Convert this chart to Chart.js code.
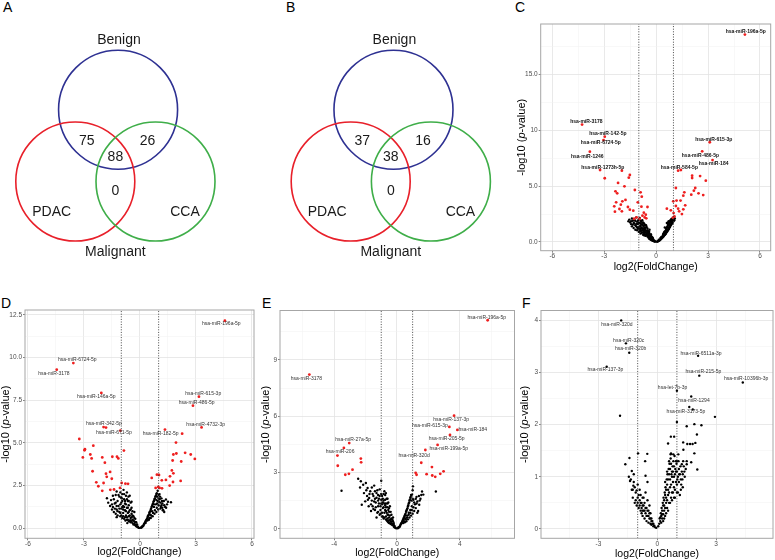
<!DOCTYPE html>
<html>
<head>
<meta charset="utf-8">
<script src="https://cdn.jsdelivr.net/npm/chart.js@4.4.0/dist/chart.umd.min.js"></script>
<style>
  body { margin: 0; background: #fff; width: 775px; height: 560px; position: relative; overflow: hidden;
         font-family: "Liberation Sans", Arial, sans-serif; }
  canvas { position: absolute; }
  .tag { position: absolute; font-size: 14px; line-height: 14px; color: #000; }
</style>
</head>
<body>
<div class="tag" style="left:3px;top:0px">A</div>
<div class="tag" style="left:286px;top:0px">B</div>
<div class="tag" style="left:515px;top:0px">C</div>
<div class="tag" style="left:1px;top:296px">D</div>
<div class="tag" style="left:262px;top:296px">E</div>
<div class="tag" style="left:522px;top:296px">F</div>

<canvas id="vennA" width="260" height="290" style="left:0px;top:0px"></canvas>
<canvas id="vennB" width="258" height="290" style="left:262px;top:0px"></canvas>
<canvas id="volC" width="263" height="262" style="left:512px;top:14px"></canvas>
<canvas id="volD" width="260" height="264" style="left:0px;top:296px"></canvas>
<canvas id="volE" width="260" height="264" style="left:258px;top:296px"></canvas>
<canvas id="volF" width="257" height="264" style="left:518px;top:296px"></canvas>

<script>
const FAMILY = '"Liberation Sans", Arial, sans-serif';
Chart.defaults.font.family = FAMILY;

// ---- Venn data ----
const vennSets = ['Benign', 'PDAC', 'CCA'];
const vennOuter = 'Malignant';
// Benign&PDAC only, Benign&CCA only, all three, PDAC&CCA only
const countsA = [75, 26, 88, 0];
const countsB = [37, 16, 38, 0];

// ---- volcano data: [log2FC, -log10 p] ----
const cRed = [[5.13,18.55],[-4.28,10.5],[-2.97,9.42],[-3.04,9.12],[-3.83,8.08],[-3.24,6.44],[-2.97,5.70],
  [3.10,8.92],[2.66,8.11],[3.26,7.33],[1.27,6.38],[1.43,6.44],
  [-1.98,6.38],[-1.52,5.99],[-1.58,5.75],[-2.20,5.28],[-1.83,4.98],[-2.35,4.53],[-2.25,4.35],[-1.23,4.65],
  [-0.90,4.44],[-0.83,4.05],[-1.77,3.76],[-1.95,3.64],[-2.31,3.55],[-2.04,3.34],[-2.42,3.19],[-2.12,2.95],
  [-2.38,2.71],[-1.98,2.74],[-1.63,3.13],[-1.52,2.89],[-1.32,2.80],[-1.06,3.55],[-0.85,3.16],[-0.50,3.13],
  [-0.71,2.62],[-0.60,2.44],[-0.79,2.35],[-1.13,2.20],[-1.27,2.08],[-0.95,2.06],[-0.66,2.20],[-0.57,2.12],
  [2.08,5.93],[2.08,5.72],[2.54,5.90],[2.87,5.48],[1.14,4.83],[2.26,4.83],[2.18,4.59],[2.45,4.35],[2.72,4.20],
  [2.03,4.23],[1.63,4.44],[1.57,4.14],[0.99,3.64],[1.18,3.70],[1.41,3.70],[1.14,3.22],[1.27,2.98],[1.57,2.92],
  [1.49,2.50],[1.33,2.74],[1.68,3.28],[0.62,2.98],[0.85,2.83],[1.01,2.59],[0.97,2.17],[1.06,2.29]];
const cBlack = [[-1.55,2.0],[-1.45,1.85],[-1.4,2.1],[-1.3,1.7],[-1.25,1.95],[-1.2,1.5],[-1.15,2.2],[-1.1,1.8],
  [-1.05,1.6],[-1.0,1.35],[-1.0,2.0],[-0.95,1.15],[-0.95,1.7],[-0.9,1.45],[-0.9,1.9],[-0.85,1.0],[-0.85,1.3],
  [-0.8,1.6],[-0.8,0.85],[-0.75,1.2],[-0.75,1.75],[-0.7,0.95],[-0.7,1.45],[-0.65,0.7],[-0.65,1.1],[-0.6,1.3],
  [-0.6,0.85],[-0.55,0.6],[-0.55,1.0],[-0.5,0.5],[-0.5,0.8],[-0.5,1.2],[-0.45,0.4],[-0.45,0.65],[-0.4,0.3],
  [-0.4,0.55],[-0.4,0.9],[-0.35,0.25],[-0.35,0.45],[-0.3,0.2],[-0.3,0.4],[-0.3,0.7],[-0.25,0.15],[-0.25,0.3],
  [-0.2,0.1],[-0.2,0.25],[-0.15,0.08],[-0.15,0.18],[-0.1,0.05],[-0.1,0.12],[-0.05,0.03],[-1.35,1.55],[-1.1,1.3],
  [-0.95,0.95],[-0.85,1.55],[-0.72,1.05],[-0.62,0.55],[-0.58,1.5],[-0.48,1.0],[-0.42,0.75],[-0.38,1.1],
  [-0.33,0.55],[-0.28,0.5],[-0.22,0.4],[-0.18,0.3],[-1.2,1.1],[-1.0,1.15],[-0.9,0.75],[-0.8,1.05],[-0.7,0.6],
  [-0.68,1.25],[0.05,0.03],[0.1,0.06],[0.15,0.1],[0.2,0.15],[0.25,0.22],[0.3,0.3],[0.35,0.38],[0.4,0.45],
  [0.45,0.55],[0.5,0.62],[0.55,0.72],[0.6,0.85],[0.65,0.95],[0.7,1.1],[0.75,1.2],[0.8,1.35],[0.85,1.5],[0.9,1.6],
  [0.95,1.7],[1.0,1.85],[0.6,1.2],[0.7,1.5],[0.75,1.65],[0.8,1.8],[0.85,1.9],[0.9,2.0],[0.65,1.4],[0.55,1.0],
  [0.45,0.8],[0.4,0.65],[0.3,0.45],[0.5,1.3],[0.62,1.7],[0.72,1.85],[0.95,2.1],[1.05,1.95],[1.0,2.2],[0.88,1.75],
  [0.78,1.55],[0.68,1.3],[0.58,1.1],[0.48,0.9],[0.38,0.55],[0.25,0.35],[0.15,0.2],
  [-1.5,1.75],[-1.4,1.4],[-1.35,1.9],[-1.3,1.25],[-1.25,1.65],[-1.2,1.9],[-1.15,1.4],[-1.1,1.05],[-1.05,1.9],
  [-1.05,1.25],[-1.0,0.9],[-1.0,1.7],[-0.95,1.4],[-0.95,2.15],[-0.9,1.05],[-0.9,1.65],[-0.85,0.8],[-0.85,1.8],
  [-0.8,1.2],[-0.8,1.95],[-0.75,0.65],[-0.75,1.45],[-0.7,0.8],[-0.7,1.65],[-0.65,1.25],[-0.65,1.55],[-0.6,1.0],
  [-0.6,0.6],[-0.55,0.75],[-0.55,1.35],[-0.5,0.65],[-0.5,1.0],[-0.45,0.5],[-0.45,0.9],[-0.4,0.4],[-0.4,0.7],
  [-0.35,0.35],[-0.35,0.6],[-0.3,0.3],[-0.3,0.55],[-0.25,0.22],[-0.25,0.45],[-0.2,0.18],[-0.2,0.35],[-0.12,0.1],
  [-0.08,0.06],[-1.45,1.6],[-1.6,1.85],[-1.12,1.62],[-0.88,1.22],
  [0.08,0.05],[0.12,0.08],[0.18,0.13],[0.22,0.2],[0.28,0.27],[0.32,0.35],[0.36,0.42],[0.42,0.5],[0.46,0.6],
  [0.52,0.7],[0.56,0.82],[0.62,0.92],[0.66,1.05],[0.72,1.15],[0.76,1.3],[0.82,1.45],[0.86,1.6],[0.92,1.75],
  [0.96,1.9],[1.02,2.05],[0.58,1.25],[0.68,1.6],[0.78,1.72],[0.82,1.95],[0.92,1.85],[1.08,2.1],[0.7,1.75],
  [0.88,2.05],[0.5,0.95],[0.42,0.75]];
const cLabels = [['hsa-miR-196a-5p',5.18,18.85],['hsa-miR-3178',-4.03,10.76],['hsa-miR-142-5p',-2.79,9.66],
  ['hsa-miR-6724-5p',-3.2,8.86],['hsa-miR-1246',-3.98,7.63],['hsa-miR-1273h-5p',-3.08,6.68],
  ['hsa-miR-615-3p',3.33,9.15],['hsa-miR-486-5p',2.56,7.75],['hsa-miR-184',3.32,6.98],['hsa-miR-584-5p',1.34,6.68]];
const cXTicks = [-6, -3, 0, 3, 6];
const cXLabels = ['-6', '-3', '0', '3', '6'];
const cYTicks = [0, 5, 10, 15];
const cYLabels = ['0.0', '5.0', '10', '15.0'];

const dRed = [[4.55,12.16],[-3.57,9.68],[-4.46,9.29],[-2.07,7.93],[3.16,7.71],[2.84,7.18],[-1.95,5.93],[-1.82,5.90],
  [3.30,5.91],[-1.05,5.72],[1.34,5.78],[2.26,5.54],[-3.25,5.23],[-2.5,4.84],[-2.95,4.63],[-2.97,4.57],[-2.66,4.32],
  [-3.06,4.15],[-2.59,4.09],[-2.02,4.15],[-1.88,3.84],[-1.48,4.19],[-1.23,4.19],[-1.16,4.09],[-0.86,4.55],
  [-2.54,3.34],[-1.6,3.30],[-1.82,3.2],[-1.78,3.01],[-1.51,2.9],[-2.34,2.69],[-1.95,2.65],[-2.23,2.46],[-2.02,2.19],
  [-1.59,2.25],[-1.39,2.27],[-1.07,2.36],[-0.98,2.65],[-0.78,2.61],[-0.64,2.6],
  [1.93,5.02],[1.79,4.32],[1.95,4.38],[2.42,4.42],[2.72,4.32],[2.94,4.06],[1.75,3.97],[2.21,3.91],[1.71,3.39],
  [1.79,3.22],[1.61,3.04],[2.18,2.77],[1.77,2.71],[1.39,2.83],[1.17,2.81],[0.91,3.14],[1.02,3.12],[0.63,2.95],
  [0.98,2.42],[1.05,2.36],[1.18,2.34],[0.84,2.36],[1.59,2.5]];
const dBlack = [[-1.77,1.76],[-1.6,1.3],[-1.5,1.1],[-1.45,1.25],[-1.4,0.95],[-1.35,1.45],[-1.3,0.85],[-1.25,1.1],
  [-1.2,1.6],[-1.2,0.75],[-1.15,1.3],[-1.1,0.95],[-1.1,1.85],[-1.05,0.7],[-1.0,1.15],[-1.0,1.5],[-0.95,2.0],
  [-0.95,0.6],[-0.9,0.9],[-0.9,1.3],[-0.88,2.25],[-0.85,1.7],[-0.85,0.55],[-0.8,1.05],[-0.8,1.45],[-0.75,0.75],
  [-0.75,1.9],[-0.7,0.5],[-0.7,1.2],[-0.65,0.9],[-0.65,1.6],[-0.6,0.4],[-0.6,0.7],[-0.6,1.35],[-0.55,1.05],
  [-0.55,1.9],[-0.5,0.35],[-0.5,0.6],[-0.5,1.5],[-0.45,0.85],[-0.45,1.2],[-0.4,0.3],[-0.4,0.5],[-0.4,1.0],
  [-0.35,0.7],[-0.35,0.22],[-0.3,0.4],[-0.3,0.95],[-0.25,0.18],[-0.25,0.55],[-0.2,0.12],[-0.2,0.35],[-0.15,0.08],
  [-0.15,0.22],[-0.1,0.05],[-0.05,0.02],[-1.3,1.95],[-1.05,2.1],[-0.7,2.1],[-0.98,1.75],[-1.25,0.65],[-0.78,0.45],
  [-0.68,0.3],[0.05,0.03],[0.1,0.07],[0.15,0.12],[0.2,0.2],[0.25,0.3],[0.3,0.4],[0.35,0.5],[0.4,0.6],[0.45,0.75],
  [0.5,0.9],[0.55,1.0],[0.6,1.15],[0.65,1.3],[0.7,1.45],[0.75,1.6],[0.8,1.75],[0.85,1.9],[0.9,2.05],[0.95,2.2],
  [1.0,1.95],[1.05,1.7],[1.1,1.5],[1.15,1.35],[1.2,1.2],[1.25,1.05],[1.3,0.95],[1.0,1.35],[0.9,1.2],[0.8,1.05],
  [0.7,0.9],[0.6,0.75],[0.5,0.6],[0.4,0.45],[0.3,0.3],[1.1,1.15],[1.2,1.45],[1.39,1.68],[1.66,1.52],[1.35,1.25],
  [1.15,1.75],[0.95,1.6],[0.85,1.4],[0.75,1.25],[0.65,1.0],[0.55,0.8],[1.05,2.0],[0.88,1.65],[1.28,1.6],[1.45,1.4],
  [-1.7,1.5],[-1.55,1.65],[-1.5,1.4],[-1.4,1.7],[-1.35,1.15],[-1.3,1.5],[-1.25,1.3],[-1.2,1.0],[-1.15,1.95],
  [-1.1,1.15],[-1.05,1.4],[-1.05,0.9],[-1.0,1.8],[-1.0,0.75],[-0.95,1.25],[-0.95,1.6],[-0.9,0.7],[-0.9,1.1],
  [-0.85,1.25],[-0.85,2.0],[-0.8,0.65],[-0.8,1.6],[-0.75,1.0],[-0.75,1.4],[-0.7,0.65],[-0.7,1.7],[-0.65,0.5],
  [-0.65,1.2],[-0.6,0.95],[-0.6,1.6],[-0.55,0.45],[-0.55,0.75],[-0.5,0.45],[-0.5,1.1],[-0.45,0.4],[-0.45,0.65],
  [-0.4,0.75],[-0.35,0.45],[-0.3,0.25],[-0.3,0.6],[-0.25,0.35],[-0.2,0.2],[-0.12,0.1],[-1.45,1.9],[-1.25,2.15],
  [-0.62,1.85],[-0.45,1.55],
  [0.08,0.05],[0.12,0.1],[0.18,0.15],[0.22,0.25],[0.28,0.35],[0.32,0.45],[0.38,0.55],[0.42,0.7],[0.48,0.8],
  [0.52,0.95],[0.58,1.1],[0.62,1.25],[0.68,1.4],[0.72,1.55],[0.78,1.7],[0.82,1.85],[0.88,2.0],[0.92,1.45],
  [1.02,1.55],[1.08,1.85],[1.12,1.25],[1.18,1.6],[1.22,1.05],[0.98,1.1],[0.88,0.95],[0.78,0.85],[0.68,0.7],
  [0.58,0.6],[0.48,0.5],[1.3,1.35],[1.4,1.2],[1.5,1.55],[1.0,1.75],[0.92,1.85],[0.75,1.4]];
const dLabels = [['hsa-miR-196a-5p',4.36,11.97],['hsa-miR-6724-5p',-3.36,9.88],['hsa-miR-3178',-4.61,9.08],
  ['hsa-miR-146a-5p',-2.34,7.69],['hsa-miR-615-3p',3.39,7.87],['hsa-miR-486-5p',3.04,7.36],
  ['hsa-miR-342-5p',-1.93,6.13],['hsa-miR-671-5p',-1.4,5.62],['hsa-miR-4732-3p',3.52,6.09],['hsa-miR-182-5p',1.11,5.52]];
const dXTicks = [-6, -3, 0, 3, 6];
const dXLabels = ['-6', '-3', '0', '3', '6'];
const dYTicks = [0, 2.5, 5, 7.5, 10, 12.5];
const dYLabels = ['0.0', '2.5', '5.0', '7.5', '10.0', '12.5'];

const eRed = [[5.78,11.12],[-5.58,8.22],[3.64,6.03],[3.34,5.43],[3.85,5.27],[3.38,5.0],[2.59,4.47],[1.81,4.2],
  [-3.04,4.57],[-3.38,4.31],[-3.79,3.9],[-2.3,3.74],[-2.28,3.54],[-3.77,3.36],[-2.83,3.15],[-3.06,2.93],[-3.29,2.88],
  [1.55,3.52],[2.23,3.29],[1.19,2.98],[1.25,2.88],[1.89,2.91],[2.25,2.84],[2.44,2.77],[2.76,2.93],[2.97,3.06]];
const eBlack = [[-3.53,2.03],[-2.47,2.67],[-2.3,2.53],[-2.35,2.2],[-1.98,2.44],[-1.87,2.17],[-2.24,1.28],[-2.02,1.46],
  [-1.77,1.64],[-1.0,2.56],[-2.1,1.9],[-1.9,1.75],[-1.7,2.0],[-1.6,1.5],[-1.55,1.2],[-1.5,1.75],[-1.45,2.3],[-1.4,1.0],
  [-1.35,1.4],[-1.3,1.9],[-1.25,0.85],[-1.2,1.2],[-1.15,1.6],[-1.1,0.75],[-1.1,2.1],[-1.05,1.0],[-1.0,1.35],
  [-0.95,0.65],[-0.95,1.75],[-0.9,1.1],[-0.85,0.55],[-0.85,1.5],[-0.8,0.85],[-0.8,2.0],[-0.75,1.25],[-0.7,0.5],
  [-0.7,0.95],[-0.65,1.6],[-0.6,0.4],[-0.6,0.75],[-0.6,1.15],[-0.55,1.4],[-0.5,0.3],[-0.5,0.6],[-0.5,0.9],
  [-0.45,1.2],[-0.4,0.25],[-0.4,0.5],[-0.35,0.75],[-0.3,0.2],[-0.3,0.4],[-0.25,0.6],[-0.2,0.12],[-0.2,0.3],
  [-0.15,0.08],[-0.1,0.05],[-0.05,0.02],[-1.65,0.95],[-1.8,1.2],[-1.3,0.6],[-1.0,1.85],[-0.9,1.4],[-0.75,1.8],
  [-0.55,1.0],[-1.2,1.5],[-1.4,1.6],[-0.7,1.35],[0.05,0.03],[0.1,0.06],[0.15,0.1],[0.2,0.15],[0.25,0.25],[0.3,0.3],
  [0.35,0.4],[0.4,0.5],[0.45,0.6],[0.5,0.7],[0.55,0.8],[0.6,0.95],[0.65,1.05],[0.7,1.2],[0.75,1.35],[0.8,1.5],
  [0.85,1.65],[0.9,1.8],[1.02,2.26],[0.96,1.82],[1.0,2.05],[1.6,1.99],[1.68,1.82],[1.42,1.28],[1.5,1.6],[1.3,1.45],
  [1.2,1.1],[1.1,0.95],[1.15,1.3],[1.0,0.8],[0.9,0.7],[0.8,0.6],[0.7,0.5],[0.6,0.4],[0.5,0.35],[0.4,0.3],[1.25,1.7],
  [1.05,1.55],[0.95,1.2],[0.85,1.0],[0.75,0.85],[0.65,0.7],[0.55,0.55],[1.35,0.95],[2.48,1.99],
  [-2.15,2.35],[-1.95,2.05],[-1.85,1.55],[-1.75,1.85],[-1.65,1.3],[-1.6,2.2],[-1.5,1.05],[-1.45,1.45],[-1.35,1.15],
  [-1.3,1.65],[-1.25,2.05],[-1.2,0.9],[-1.15,1.35],[-1.1,1.75],[-1.05,0.8],[-1.05,1.2],[-1.0,1.55],[-0.95,0.85],
  [-0.95,1.3],[-0.9,0.65],[-0.9,1.6],[-0.85,1.15],[-0.85,1.85],[-0.8,0.6],[-0.8,1.35],[-0.75,1.0],[-0.75,1.55],
  [-0.7,0.65],[-0.7,1.15],[-0.65,0.45],[-0.65,0.85],[-0.6,0.55],[-0.6,1.35],[-0.55,0.35],[-0.55,0.75],[-0.5,0.45],
  [-0.5,1.1],[-0.45,0.3],[-0.45,0.7],[-0.4,0.4],[-0.4,0.9],[-0.35,0.3],[-0.35,0.55],[-0.3,0.5],[-0.25,0.25],
  [-0.25,0.4],[-0.2,0.2],[-0.15,0.15],[-1.55,1.85],[-1.4,2.0],[-1.2,1.8],[-0.7,1.9],[-0.6,1.6],
  [0.08,0.05],[0.12,0.08],[0.18,0.12],[0.22,0.2],[0.28,0.28],[0.32,0.35],[0.38,0.45],[0.42,0.55],[0.48,0.65],
  [0.52,0.75],[0.58,0.9],[0.62,1.0],[0.68,1.1],[0.72,1.25],[0.78,1.4],[0.82,1.55],[0.88,1.7],[0.92,1.5],[1.0,1.6],
  [1.1,1.4],[1.2,1.6],[1.4,1.75],[1.55,1.8],[1.45,1.5],[1.05,1.15],[0.95,1.0],[0.85,0.85],[0.75,0.75],[0.65,0.6],
  [0.55,0.5],[0.45,0.4],[1.25,1.35],[1.3,0.85]];
const eLabels = [['hsa-miR-196a-5p',5.72,11.24],['hsa-miR-3178',-5.77,8.0],['hsa-miR-137-3p',3.45,5.82],
  ['hsa-miR-615-3p',2.1,5.48],['hsa-miR-184',4.83,5.28],['hsa-miR-205-5p',3.17,4.79],['hsa-miR-199a-5p',3.3,4.25],
  ['hsa-miR-320d',1.10,3.92],['hsa-miR-27a-5p',-2.79,4.73],['hsa-miR-206',-3.62,4.09]];
const eXTicks = [-4, 0, 4];
const eXLabels = ['-4', '0', '4'];
const eYTicks = [0, 3, 6, 9];
const eYLabels = ['0', '3', '6', '9'];

const fBlack = [[-1.84,4.0],[-1.60,3.56],[-1.43,3.38],[-2.58,3.11],[2.08,3.32],[2.14,2.94],[4.36,2.81],[1.0,2.65],
  [1.73,2.54],[1.63,2.34],[1.81,2.29],[-1.90,2.17],[2.94,2.15],[1.0,2.05],[1.89,2.01],[2.25,1.99],[1.50,1.97],
  [2.02,1.81],[0.69,1.77],[0.86,1.77],[0.55,1.64],[1.32,1.66],[1.53,1.63],[1.67,1.63],[1.80,1.63],[1.94,1.65],
  [1.89,1.45],[2.04,1.14],[1.73,1.28],[0.68,1.43],[0.82,1.43],[1.07,1.43],[1.33,1.52],[1.0,1.3],[1.25,1.24],[1.5,1.24],
  [-1.42,1.36],[-0.98,1.45],[-0.51,1.44],[-0.62,1.3],[-1.63,1.24],[-1.3,1.11],[-1.39,0.92],[-1.22,0.83],[-1.05,0.74],
  [-1.35,0.95],[-1.3,0.75],[-1.25,0.6],[-1.2,0.9],[-1.15,0.5],[-1.1,0.7],[-1.05,0.45],[-1.0,0.6],[-1.0,0.85],
  [-0.95,0.4],[-0.9,0.55],[-0.9,0.75],[-0.85,0.35],[-0.85,0.65],[-0.8,0.3],[-0.8,0.5],[-0.75,0.45],[-0.75,0.25],
  [-0.7,0.6],[-0.7,0.35],[-0.65,0.2],[-0.65,0.5],[-0.6,0.3],[-0.6,0.7],[-0.55,0.15],[-0.55,0.4],[-0.5,0.25],
  [-0.5,0.55],[-0.45,0.12],[-0.45,0.35],[-0.4,0.2],[-0.4,0.45],[-0.35,0.1],[-0.35,0.3],[-0.3,0.08],[-0.3,0.2],
  [-0.25,0.15],[-0.2,0.05],[-0.2,0.1],[-0.15,0.06],[-0.1,0.03],[-0.05,0.02],[-1.45,1.0],[-0.6,1.02],[-0.5,0.9],
  [-1.2,1.05],[0.05,0.05],[0.1,0.1],[0.15,0.15],[0.2,0.25],[0.2,0.12],[0.25,0.35],[0.25,0.2],[0.3,0.45],[0.3,0.28],
  [0.35,0.55],[0.35,0.35],[0.4,0.65],[0.4,0.4],[0.45,0.75],[0.45,0.5],[0.5,0.85],[0.5,0.55],[0.55,0.95],[0.55,0.65],
  [0.6,1.05],[0.6,0.7],[0.65,1.15],[0.65,0.8],[0.7,1.25],[0.7,0.85],[0.75,1.0],[0.75,0.7],[0.8,1.1],[0.8,0.9],
  [0.85,1.2],[0.85,0.8],[0.9,1.05],[0.9,0.75],[0.95,1.3],[0.95,0.9],[1.0,1.1],[1.0,0.85],[1.05,1.0],[1.1,1.15],
  [1.1,0.9],[1.15,1.05],[1.2,0.95],[1.25,1.1],[1.3,1.05],[1.35,1.2],[1.4,1.0],[1.45,1.15],[1.5,1.3],[0.4,0.9],
  [0.5,1.1],[0.6,1.3],[0.7,1.45],[0.55,0.35],[0.45,0.3],[0.35,0.2],[0.65,0.5],[0.75,0.55],[0.85,0.6],[1.2,0.75],
  [1.05,0.7],
  [0.12,0.2],[0.18,0.3],[0.22,0.4],[0.28,0.5],[0.32,0.6],[0.38,0.7],[0.42,0.8],[0.48,0.95],[0.52,1.05],[0.58,1.15],
  [0.62,1.25],[0.68,1.35],[0.72,1.05],[0.78,1.2],[0.82,1.3],[0.88,1.4],[0.92,1.15],[0.98,1.25],[1.02,0.95],
  [1.08,1.3],[1.12,1.05],[1.18,1.2],[1.22,0.85],[1.28,0.95],[1.32,1.3],[1.38,1.1],[0.3,0.15],[0.4,0.25],[0.5,0.4],
  [0.6,0.5],[0.7,0.6],[0.8,0.7],[0.9,0.6],[1.0,0.7],[0.55,0.75],[0.65,0.95],[0.75,1.1],[0.85,1.0],[0.95,1.1],
  [0.45,0.6],[0.35,0.45],[0.25,0.28],[0.15,0.22],[1.15,0.65],[1.3,0.8],
  [-1.1,0.55],[-1.0,0.5],[-0.95,0.65],[-0.9,0.45],[-0.85,0.5],[-0.8,0.4],[-0.75,0.35],[-0.7,0.45],[-0.65,0.35],
  [-0.6,0.4],[-0.55,0.25],[-0.5,0.35],[-0.45,0.25],[-0.4,0.3],[-0.35,0.2],[-0.3,0.15],[-0.25,0.1],[-1.25,0.75],
  [-1.15,0.8],[-0.75,0.6]];
const fLabels = [['hsa-miR-320d',-2.06,3.92],['hsa-miR-320c',-1.46,3.62],['hsa-miR-320b',-1.36,3.45],
  ['hsa-miR-137-3p',-2.65,3.05],['hsa-miR-6511a-3p',2.23,3.37],['hsa-miR-215-5p',2.35,3.02],
  ['hsa-miR-10396b-3p',4.53,2.88],['hsa-let-7b-3p',0.78,2.72],['hsa-miR-1294',1.87,2.46],['hsa-miR-3173-5p',1.46,2.25]];
const fXTicks = [-3, 0, 3];
const fXLabels = ['-3', '0', '3'];
const fYTicks = [0, 1, 2, 3, 4];
const fYLabels = ['0', '1', '2', '3', '4'];

const fcCutoff = [-1, 1];

// ---- Venn ----
const vennColors = ['#2e3192', '#e8202a', '#3fae49'];
// template positions in circle-radius units, origin midway between PDAC and CCA
const vennLayout = {
  circles: [[0.045, 1.207], [-0.674, 0], [0.674, 0]],
  title: [0.06, 2.37],
  counts: [[-0.48, 0.67], [0.54, 0.67], [0, 0.41], [0, -0.17]],
  setLabels: [[-1.07, -0.51], [1.17, -0.51]],
  outer: [0, -1.19]
};

function vennText(counts) {
  return {
    id: 'vennText',
    afterDatasetsDraw(chart) {
      const { ctx, scales: { x, y } } = chart;
      const put = (t, [vx, vy]) => ctx.fillText(t, x.getPixelForValue(vx), y.getPixelForValue(vy));
      ctx.save();
      ctx.font = '14px ' + FAMILY;
      ctx.fillStyle = '#1a1a1a';
      ctx.textAlign = 'center';
      ctx.textBaseline = 'middle';
      put(vennSets[0], vennLayout.title);
      put(vennSets[1], vennLayout.setLabels[0]);
      put(vennSets[2], vennLayout.setLabels[1]);
      put(vennOuter, vennLayout.outer);
      counts.forEach((c, i) => put(String(c), vennLayout.counts[i]));
      ctx.restore();
    }
  };
}

function venn(id, counts, cx) {
  const cv = document.getElementById(id);
  const unit = 59.5, cy = 181.5;
  new Chart(cv, {
    type: 'scatter',
    data: {
      datasets: [{
        data: vennLayout.circles.map(([x, y]) => ({ x, y })),
        pointRadius: unit,
        pointBorderColor: vennColors,
        pointBackgroundColor: 'rgba(0,0,0,0)',
        pointBorderWidth: 1.6,
        clip: false
      }]
    },
    options: {
      animation: false, responsive: false, events: [],
      layout: { padding: 0, autoPadding: false },
      scales: {
        x: { type: 'linear', display: false, min: -cx / unit, max: (cv.width - cx) / unit },
        y: { type: 'linear', display: false, min: -(cv.height - cy) / unit, max: cy / unit }
      },
      plugins: { legend: { display: false }, tooltip: { enabled: false } }
    },
    plugins: [vennText(counts)]
  });
}

venn('vennA', countsA, 115.4);
venn('vennB', countsB, 128.8);

// ---- volcano ----
function gridAxis(min, max, majors, labels) {
  const step = majors[1] - majors[0];
  const minors = [majors[0] - step / 2, ...majors.map(v => v + step / 2)].filter(v => v > min && v < max);
  const isMajor = v => majors.includes(v);
  return {
    type: 'linear', min, max,
    afterBuildTicks: s => { s.ticks = majors.concat(minors).sort((a, b) => a - b).map(value => ({ value })); },
    ticks: {
      autoSkip: false, maxRotation: 0, padding: 0, color: '#4d4d4d', font: { size: 6.5 },
      callback: v => isMajor(v) ? labels[majors.indexOf(v)] : ''
    },
    grid: {
      color: c => isMajor(c.tick.value) ? '#e3e3e3' : '#f1f1f1',
      lineWidth: c => isMajor(c.tick.value) ? 0.8 : 0.5,
      tickColor: c => isMajor(c.tick.value) ? '#666' : 'rgba(0,0,0,0)',
      tickLength: 2
    },
    border: { display: false }
  };
}

function framePlugin() {
  return {
    id: 'frame',
    afterDraw(chart) {
      const { ctx, chartArea: a } = chart;
      ctx.save();
      ctx.strokeStyle = '#a6a6a6';
      ctx.lineWidth = 1;
      ctx.strokeRect(a.left, a.top, a.right - a.left, a.bottom - a.top);
      ctx.restore();
    }
  };
}

function yTitle(gap) {
  return {
    id: 'ytitle',
    afterDraw(chart) {
      const { ctx, chartArea: a } = chart;
      const parts = [['-log10 (', ''], ['p', 'italic '], ['-value)', '']];
      ctx.save();
      ctx.translate(a.left - gap, (a.top + a.bottom) / 2);
      ctx.rotate(-Math.PI / 2);
      ctx.textBaseline = 'middle';
      ctx.textAlign = 'left';
      ctx.fillStyle = '#000';
      const widths = parts.map(([t, s]) => { ctx.font = s + '11px ' + FAMILY; return ctx.measureText(t).width; });
      let x = -widths.reduce((p, q) => p + q, 0) / 2;
      parts.forEach(([t, s], i) => { ctx.font = s + '11px ' + FAMILY; ctx.fillText(t, x, 0); x += widths[i]; });
      ctx.restore();
    }
  };
}

function mirLabels(items, font, color) {
  return {
    id: 'mirLabels',
    afterDatasetsDraw(chart) {
      const { ctx, scales: { x, y } } = chart;
      ctx.save();
      ctx.font = font;
      ctx.fillStyle = color;
      ctx.textAlign = 'center';
      ctx.textBaseline = 'middle';
      items.forEach(([t, vx, vy]) => ctx.fillText(t, x.getPixelForValue(vx), y.getPixelForValue(vy)));
      ctx.restore();
    }
  };
}

function volcano(p) {
  const cv = document.getElementById(p.id);
  const left = cv.offsetLeft, top = cv.offsetTop;
  const [al, at, ar, ab] = p.area;
  const pts = arr => arr.map(([x, y]) => ({ x, y }));
  const vline = v => ({
    data: [{ x: v, y: p.yr[0] }, { x: v, y: p.yr[1] }],
    showLine: true, pointRadius: 0, borderColor: '#333', borderWidth: 0.9, borderDash: [1, 1.6]
  });
  const xAxis = gridAxis(p.xr[0], p.xr[1], p.xt, p.xl);
  xAxis.position = 'bottom';
  xAxis.afterFit = s => { s.height = top + cv.height - ab; };
  xAxis.title = { display: true, text: 'log2(FoldChange)', color: '#000', font: { size: 10.5 },
                  padding: { top: 0, bottom: p.xtPad } };
  const yAxis = gridAxis(p.yr[0], p.yr[1], p.yt, p.yl);
  yAxis.position = 'left';
  yAxis.ticks.padding = 1;
  yAxis.afterFit = s => { s.width = al - left; };

  const datasets = fcCutoff.map(vline);
  if (p.red) datasets.push({ data: pts(p.red), pointRadius: 1.4, pointBackgroundColor: '#ee1f1f', pointBorderWidth: 0 });
  datasets.push({ data: pts(p.black), pointRadius: 1.2, pointBackgroundColor: '#000', pointBorderWidth: 0 });

  new Chart(cv, {
    type: 'scatter',
    data: { datasets },
    options: {
      animation: false, responsive: false, events: [],
      layout: { autoPadding: false, padding: { left: 0, bottom: 0, top: at - top, right: left + cv.width - ar } },
      scales: { x: xAxis, y: yAxis },
      plugins: { legend: { display: false }, tooltip: { enabled: false } }
    },
    plugins: [framePlugin(), yTitle(p.yGap), mirLabels(p.labels, p.labelFont, p.labelColor)]
  });
}

volcano({ id: 'volC', area: [540.7, 24, 770.7, 250.7], xr: [-6.67, 6.62], yr: [-0.78, 19.5],
  xt: cXTicks, xl: cXLabels, yt: cYTicks, yl: cYLabels, red: cRed, black: cBlack, labels: cLabels,
  labelFont: 'bold 5px ' + FAMILY, labelColor: '#111', yGap: 19, xtPad: 3 });
volcano({ id: 'volD', area: [25, 310, 254, 538.3], xr: [-6.16, 6.11], yr: [-0.59, 12.79],
  xt: dXTicks, xl: dXLabels, yt: dYTicks, yl: dYLabels, red: dRed, black: dBlack, labels: dLabels,
  labelFont: '5px ' + FAMILY, labelColor: '#333', yGap: 19.5, xtPad: 1.7 });
volcano({ id: 'volE', area: [280, 310.5, 514.5, 538.3], xr: [-7.45, 7.49], yr: [-0.51, 11.64],
  xt: eXTicks, xl: eXLabels, yt: eYTicks, yl: eYLabels, red: eRed, black: eBlack, labels: eLabels,
  labelFont: '5px ' + FAMILY, labelColor: '#333', yGap: 14, xtPad: 0.7 });
volcano({ id: 'volF', area: [541, 310.5, 773, 538.3], xr: [-5.93, 5.90], yr: [-0.18, 4.19],
  xt: fXTicks, xl: fXLabels, yt: fYTicks, yl: fYLabels, red: null, black: fBlack, labels: fLabels,
  labelFont: '5px ' + FAMILY, labelColor: '#333', yGap: 16, xtPad: 0 });
</script>
</body>
</html>
